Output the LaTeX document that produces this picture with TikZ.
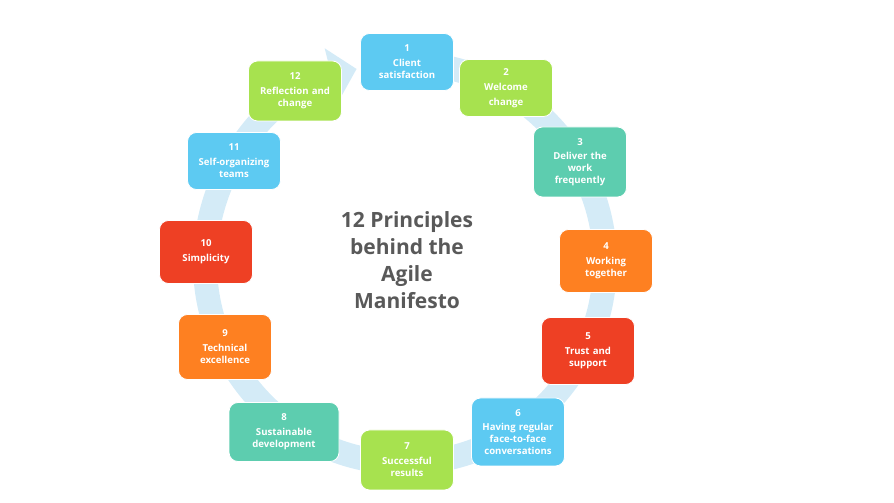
\documentclass[tikz,border=0pt]{standalone}
\usepackage{fontspec}
\setmainfont{Open Sans}
\usepackage{tikz}
\usetikzlibrary{positioning, arrows.meta}

\definecolor{pblue}{HTML}{5DCAF2}
\definecolor{plime}{HTML}{A7E24F}
\definecolor{pteal}{HTML}{5DCDAF}
\definecolor{porange}{HTML}{FE8021}
\definecolor{pred}{HTML}{EE4024}
\definecolor{pband}{HTML}{D4EBF7}
\definecolor{ptitle}{HTML}{595959}

\tikzset{
  principle/.style={draw=white, line width=0.8pt, rectangle, rounded corners=9pt,
    text=white, font=\bfseries\fontsize{9.6}{12}\selectfont,
    minimum width=93pt, minimum height=57pt, text width=91pt, inner sep=1pt,
    align=center},
  cycleband/.style={draw=pband, line width=24pt,
    -{Triangle[width=54pt, length=26pt]}},
}

\begin{document}
\begin{tikzpicture}[x=1pt, y=1pt]
\useasboundingbox (0,0) rectangle (894,503);
\coordinate (hub) at (405,240);

% the cycle runs behind the boxes
\draw[cycleband] (hub) ++(85:200pt) arc[start angle=85, end angle=-256, radius=200pt];

\node[font=\bfseries\fontsize{21}{27}\selectfont, text=ptitle, align=center] (title) at (407,243)
  {12 Principles\\behind the\\Agile\\Manifesto};

\node[principle, fill=pblue] (p1) at (407,441) {1\\[3pt]Client\\satisfaction};
\node[principle, fill=plime] (p2) at (506,415) {2\\[3pt]Welcome\\[3pt]change};
\node[principle, fill=pteal, minimum height=70pt] (p3) at (580,341) {3\\[2pt]Deliver the\\work\\frequently};
\node[principle, fill=porange, minimum height=63pt] (p4) at (606,242) {4\\[3pt]Working\\together};
\node[principle, fill=pred, minimum height=67pt] (p5) at (588,152) {5\\[3pt]Trust and\\support};
\node[principle, fill=pblue, minimum height=68pt] (p6) at (518,71) {6\\[2pt]Having regular\\face-to-face\\conversations};
\node[principle, fill=plime, minimum height=60pt] (p7) at (407,43) {7\\[3pt]Successful\\results};
\node[principle, fill=pteal, minimum width=110pt, text width=108pt, minimum height=59pt] (p8) at (284,71) {8\\[3pt]Sustainable\\development};
\node[principle, fill=porange, minimum height=65pt] (p9) at (225,156) {9\\[3pt]Technical\\excellence};
\node[principle, fill=pred, minimum height=63pt] (p10) at (206,251) {10\\[3pt]Simplicity};
\node[principle, fill=pblue] (p11) at (234,342) {11\\[3pt]Self-organizing\\teams};
\node[principle, fill=plime, minimum height=60pt] (p12) at (295,412) {12\\[3pt]Reflection and\\change};
\end{tikzpicture}
\end{document}
